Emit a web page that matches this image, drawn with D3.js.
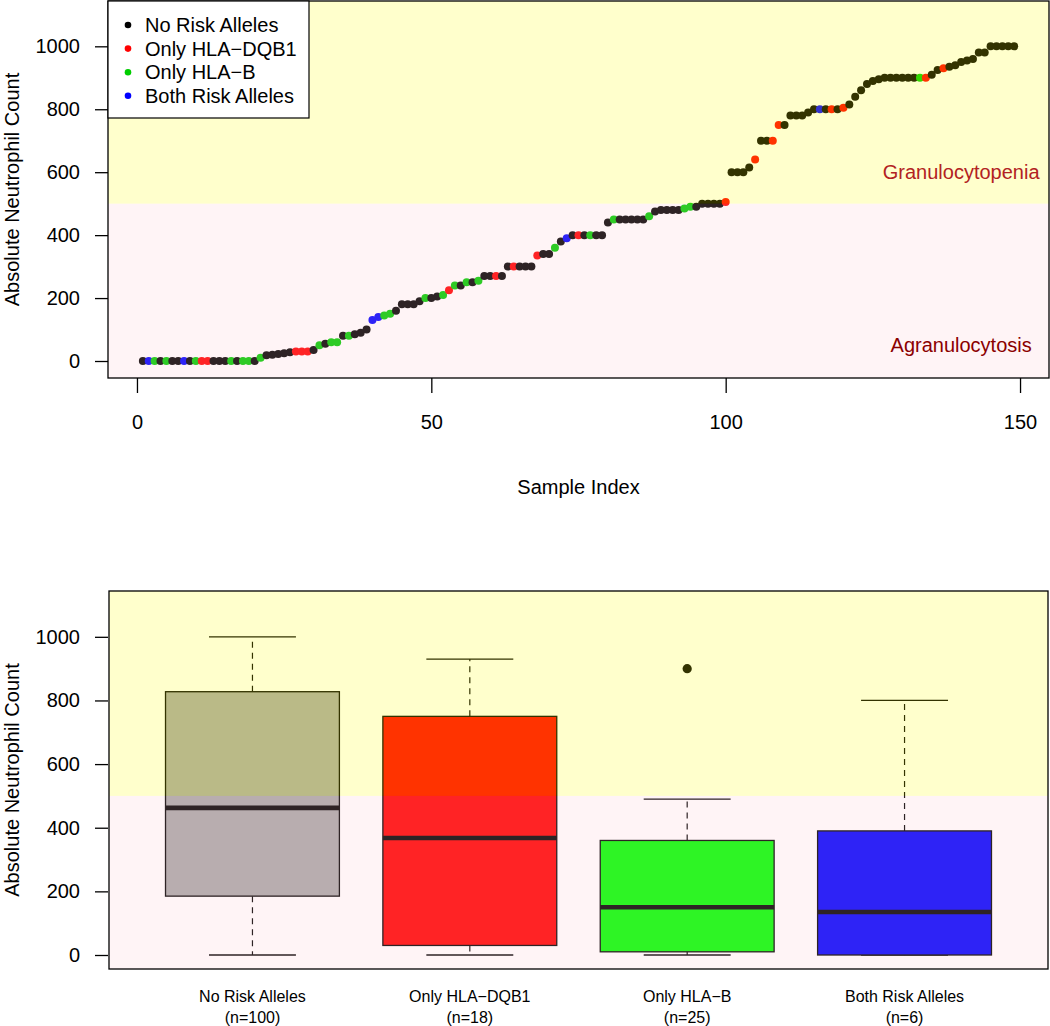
<!DOCTYPE html>
<html>
<head>
<meta charset="utf-8">
<script src="https://cdn.jsdelivr.net/npm/d3@7"></script>
<style>
  html, body { margin: 0; padding: 0; background: #ffffff; }
  svg { display: block; font-family: "Liberation Sans", Arial, Helvetica, sans-serif; }
</style>
</head>
<body>
<svg id="chart" width="1050" height="1026"></svg>
<script>
// ---------------- DATA ----------------
const groupNames = ["No Risk Alleles", "Only HLA\u2212DQB1", "Only HLA\u2212B", "Both Risk Alleles"];
// sorted absolute neutrophil counts (sample index 1..149)
const ancValues = [
  0,0,0,0,0,0,0,0,0,0,
  0,0,0,0,0,0,0,0,0,0,
  10,18,20,22,25,28,30,30,30,35,
  50,55,60,60,80,80,85,90,100,130,
  140,145,150,160,180,180,180,190,200,200,
  205,210,225,240,240,250,250,255,270,270,
  270,270,300,300,300,300,300,335,340,340,
  360,380,390,400,400,400,400,400,400,440,
  450,450,450,450,450,450,460,475,480,480,
  480,480,485,490,490,500,500,500,500,505,
  600,600,600,615,640,700,700,700,750,750,
  780,780,780,790,800,800,800,800,800,805,
  815,840,860,880,890,895,900,900,900,900,
  900,900,900,900,910,925,930,935,940,950,
  955,960,980,980,1000,1000,1000,1000,1000
];
// group code per sample: 0 = none, 1 = only DQB1, 2 = only B, 3 = both
const ancGroups = [
  0,3,2,0,2,0,0,3,0,2,
  1,1,0,0,0,2,0,2,2,0,
  2,0,0,0,0,0,1,1,1,0,
  2,0,2,2,0,2,0,0,0,3,
  3,2,2,0,0,0,0,0,2,0,
  0,2,1,2,0,2,0,2,0,0,
  1,0,0,1,0,0,0,1,0,0,
  2,0,3,0,1,0,2,0,0,0,
  2,0,0,0,0,0,2,0,0,0,
  0,0,2,2,0,0,0,0,0,1,
  0,0,0,0,1,0,0,1,1,0,
  0,0,0,0,0,3,0,1,0,1,
  0,0,0,0,0,0,0,0,0,0,
  0,0,2,1,0,0,1,0,0,0,
  0,0,0,0,0,0,0,0,0
];
const yTicks = [0, 200, 400, 600, 800, 1000];
const xTicks = [0, 50, 100, 150];
const threshold = 500;
const zoneLabels = ["Granulocytopenia", "Agranulocytosis"];

// ---------------- STYLE ----------------
const pointColors = ["#000000", "#ff0000", "#00cd00", "#0000ff"];
const boxColors = ["#a9a9a9", "#ff0000", "#00ff00", "#0000ff"];
const FONT = 20;

const svg = d3.select("#chart");
svg.append("rect").attr("width", 1050).attr("height", 1026).attr("fill", "#ffffff");

const samples = ancValues.map((v, i) => ({ idx: i + 1, value: v, group: ancGroups[i] }));

// ================= TOP PANEL =================
const topP = { left: 108, right: 1049, top: 1, bottom: 378 };
const xT = d3.scaleLinear().domain([-4.92, 154.92]).range([topP.left, topP.right]);
const yT = d3.scaleLinear().domain([-54, 1144]).range([topP.bottom, topP.top]);

const gTop = svg.append("g");
gTop.append("g").selectAll("circle").data(samples).join("circle")
  .attr("cx", d => xT(d.idx)).attr("cy", d => yT(d.value))
  .attr("r", 4).attr("fill", d => pointColors[d.group]);

// translucent zones
gTop.append("rect").attr("x", topP.left).attr("y", topP.top)
  .attr("width", topP.right - topP.left).attr("height", yT(threshold) - topP.top)
  .attr("fill", "#ffff00").attr("fill-opacity", 0.2);
gTop.append("rect").attr("x", topP.left).attr("y", yT(threshold))
  .attr("width", topP.right - topP.left).attr("height", topP.bottom - yT(threshold))
  .attr("fill", "#ffc0cb").attr("fill-opacity", 0.18);

// frame
gTop.append("rect").attr("x", topP.left).attr("y", topP.top)
  .attr("width", topP.right - topP.left).attr("height", topP.bottom - topP.top)
  .attr("fill", "none").attr("stroke", "#000").attr("stroke-width", 1.3);

// axes
const axYT = gTop.append("g").attr("transform", `translate(${topP.left},0)`)
  .call(d3.axisLeft(yT).tickValues(yTicks).tickSize(13).tickPadding(15).tickFormat(d3.format("d")));
const axXT = gTop.append("g").attr("transform", `translate(0,${topP.bottom})`)
  .call(d3.axisBottom(xT).tickValues(xTicks).tickSize(15).tickPadding(22).tickFormat(d3.format("d")));
[axYT, axXT].forEach(ax => {
  ax.select(".domain").remove();
  ax.selectAll("line").attr("stroke", "#000").attr("stroke-width", 1.3);
  ax.selectAll("text").attr("font-size", FONT).attr("fill", "#000").attr("font-family", null);
});
gTop.append("text").attr("x", (topP.left + topP.right) / 2).attr("y", 494)
  .attr("text-anchor", "middle").attr("font-size", FONT).text("Sample Index");
gTop.append("text").attr("transform", `translate(19,${(topP.top + topP.bottom) / 2}) rotate(-90)`)
  .attr("text-anchor", "middle").attr("font-size", FONT).text("Absolute Neutrophil Count");

// zone labels
gTop.append("text").attr("x", xT(140)).attr("y", yT(600)).attr("dy", "0.35em")
  .attr("text-anchor", "middle").attr("font-size", FONT).attr("fill", "#b22222").text(zoneLabels[0]);
gTop.append("text").attr("x", xT(140)).attr("y", yT(50)).attr("dy", "0.35em")
  .attr("text-anchor", "middle").attr("font-size", FONT).attr("fill", "#8b0000").text(zoneLabels[1]);

// legend
const leg = gTop.append("g");
leg.append("rect").attr("x", topP.left).attr("y", topP.top).attr("width", 201).attr("height", 117)
  .attr("fill", "#fff").attr("stroke", "#000").attr("stroke-width", 1.2);
groupNames.forEach((name, i) => {
  const cy = 25 + i * 23.6;
  leg.append("circle").attr("cx", 128).attr("cy", cy).attr("r", 3.3).attr("fill", pointColors[i]);
  leg.append("text").attr("x", 145).attr("y", cy).attr("dy", "0.35em")
    .attr("font-size", FONT).attr("fill", "#000").text(name);
});

// ================= BOTTOM PANEL =================
const botP = { left: 109, right: 1048, top: 591, bottom: 969 };
const xB = d3.scaleLinear().domain([0.34, 4.66]).range([botP.left, botP.right]);
const yB = d3.scaleLinear().domain([-44, 1144]).range([botP.bottom, botP.top]);

function fivenum(arr) {
  const x = arr.slice().sort(d3.ascending);
  const n = x.length;
  const n4 = Math.floor((n + 3) / 2) / 2;
  const d = [1, n4, (n + 1) / 2, n + 1 - n4, n];
  return d.map(k => 0.5 * (x[Math.floor(k) - 1] + x[Math.ceil(k) - 1]));
}
const stats = groupNames.map((name, g) => {
  const vals = samples.filter(s => s.group === g).map(s => s.value);
  const f = fivenum(vals);
  const iqr = f[3] - f[1];
  const hiLim = f[3] + 1.5 * iqr, loLim = f[1] - 1.5 * iqr;
  const inside = vals.filter(v => v <= hiLim && v >= loLim);
  return {
    g, name, n: vals.length, q1: f[1], med: f[2], q3: f[3],
    lo: d3.min(inside), hi: d3.max(inside),
    out: vals.filter(v => v > hiLim || v < loLim)
  };
});

const gBot = svg.append("g");
const boxHalf = 0.4 * (xB(2) - xB(1));
const capHalf = 0.2 * (xB(2) - xB(1));
stats.forEach(s => {
  const cx = xB(s.g + 1);
  gBot.append("line").attr("x1", cx).attr("x2", cx).attr("y1", yB(s.q3)).attr("y2", yB(s.hi))
    .attr("stroke", "#000").attr("stroke-width", 1.2).attr("stroke-dasharray", "6,5");
  gBot.append("line").attr("x1", cx).attr("x2", cx).attr("y1", yB(s.q1)).attr("y2", yB(s.lo))
    .attr("stroke", "#000").attr("stroke-width", 1.2).attr("stroke-dasharray", "6,5");
  gBot.append("line").attr("x1", cx - capHalf).attr("x2", cx + capHalf).attr("y1", yB(s.hi)).attr("y2", yB(s.hi))
    .attr("stroke", "#000").attr("stroke-width", 1.3);
  gBot.append("line").attr("x1", cx - capHalf).attr("x2", cx + capHalf).attr("y1", yB(s.lo)).attr("y2", yB(s.lo))
    .attr("stroke", "#000").attr("stroke-width", 1.3);
  gBot.append("rect").attr("x", cx - boxHalf).attr("y", yB(s.q3))
    .attr("width", 2 * boxHalf).attr("height", Math.max(0.5, yB(s.q1) - yB(s.q3)))
    .attr("fill", boxColors[s.g]).attr("stroke", "#000").attr("stroke-width", 1.3);
  gBot.append("line").attr("x1", cx - boxHalf).attr("x2", cx + boxHalf).attr("y1", yB(s.med)).attr("y2", yB(s.med))
    .attr("stroke", "#000").attr("stroke-width", 4.6);
  s.out.forEach(v => {
    gBot.append("circle").attr("cx", cx).attr("cy", yB(v)).attr("r", 4.6).attr("fill", "#000");
  });
});

gBot.append("rect").attr("x", botP.left).attr("y", botP.top)
  .attr("width", botP.right - botP.left).attr("height", yB(threshold) - botP.top)
  .attr("fill", "#ffff00").attr("fill-opacity", 0.2);
gBot.append("rect").attr("x", botP.left).attr("y", yB(threshold))
  .attr("width", botP.right - botP.left).attr("height", botP.bottom - yB(threshold))
  .attr("fill", "#ffc0cb").attr("fill-opacity", 0.18);

gBot.append("rect").attr("x", botP.left).attr("y", botP.top)
  .attr("width", botP.right - botP.left).attr("height", botP.bottom - botP.top)
  .attr("fill", "none").attr("stroke", "#000").attr("stroke-width", 1.3);

const axYB = gBot.append("g").attr("transform", `translate(${botP.left - 1},0)`)
  .call(d3.axisLeft(yB).tickValues(yTicks).tickSize(13).tickPadding(15).tickFormat(d3.format("d")));
axYB.select(".domain").remove();
axYB.selectAll("line").attr("stroke", "#000").attr("stroke-width", 1.3);
axYB.selectAll("text").attr("font-size", FONT).attr("fill", "#000").attr("font-family", null);

gBot.append("text").attr("transform", `translate(19,${(botP.top + botP.bottom) / 2}) rotate(-90)`)
  .attr("text-anchor", "middle").attr("font-size", FONT).text("Absolute Neutrophil Count");

stats.forEach(s => {
  const cx = xB(s.g + 1);
  gBot.append("text").attr("x", cx).attr("y", 1002).attr("text-anchor", "middle")
    .attr("font-size", 16).text(s.name);
  gBot.append("text").attr("x", cx).attr("y", 1023).attr("text-anchor", "middle")
    .attr("font-size", 16).text(`(n=${s.n})`);
});
</script>
</body>
</html>
